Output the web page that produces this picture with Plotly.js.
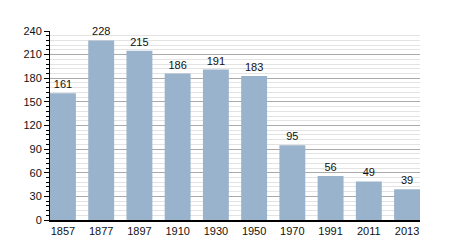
<!DOCTYPE html>
<html><head><meta charset="utf-8">
<script src="https://cdn.plot.ly/plotly-3.0.1.min.js"></script>
<style>body{margin:0;padding:0;}#c{width:450px;height:250px;}</style>
</head><body><div id="c"></div>
<script>
const years = ["1857","1877","1897","1910","1930","1950","1970","1991","2011","2013"];
const population = [161,228,215,186,191,183,95,56,49,39];
const yTicks = [0,30,60,90,120,150,180,210,240];

Plotly.newPlot('c', [{
  type: 'bar',
  x: years,
  y: population,
  text: population.map(String),
  textposition: 'outside',
  cliponaxis: false,
  textfont: {family: 'Liberation Sans, Arial, sans-serif', size: 11, color: '#111'},
  marker: {color: '#9ab3cc', line: {width: 0}},
  hoverinfo: 'none'
}], {
  width: 450, height: 250,
  margin: {l: 50, r: 30, t: 31, b: 30},
  paper_bgcolor: '#fff', plot_bgcolor: '#fff',
  font: {family: 'Liberation Sans, Arial, sans-serif', size: 11, color: '#111'},
  bargap: 0.322,
  showlegend: false,
  xaxis: {
    type: 'category',
    range: [-0.339, 9.339],
    showline: true, linecolor: '#000', linewidth: 1.5,
    ticks: '', showgrid: false, zeroline: false,
    tickfont: {size: 11, color: '#111'}
  },
  yaxis: {
    range: [0, 240],
    tickvals: yTicks,
    ticktext: yTicks.map(String),
    showline: true, linecolor: '#000', linewidth: 1,
    ticks: 'outside', ticklen: 5, tickcolor: '#000',
    showgrid: true, gridcolor: '#aaaaaa', gridwidth: 1,
    zeroline: false,
    minor: {dtick: 6, showgrid: true, gridcolor: '#e3e3e3', gridwidth: 1, ticks: 'outside', ticklen: 3, tickcolor: '#000'},
    tickfont: {size: 11, color: '#111'}
  }
}, {staticPlot: true});
</script>
</body></html>
